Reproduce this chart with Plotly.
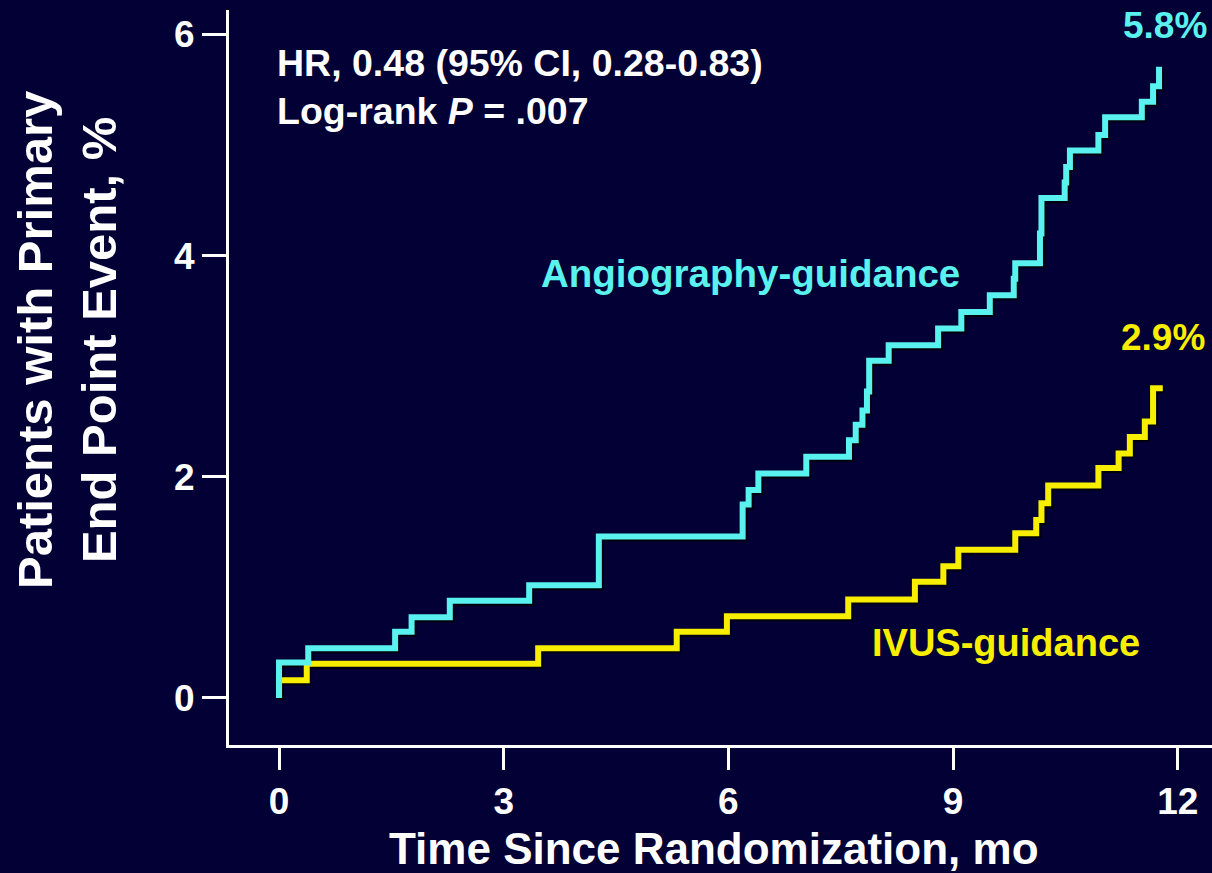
import plotly.graph_objects as go

# Angiography-guidance (cyan) cumulative event curve
angio_months = [0, 0, 0.39, 1.55, 1.77, 2.28, 3.34, 4.27, 6.19, 6.27, 6.40, 7.04, 7.61, 7.70,
                7.79, 7.85, 7.88, 8.14, 8.80, 9.11, 9.49, 9.81, 9.83, 10.16, 10.18, 10.49,
                10.51, 10.56, 10.94, 11.03, 11.52, 11.67, 11.75, 11.79]
angio_pct = [0, 0.32, 0.45, 0.60, 0.73, 0.88, 1.02, 1.46, 1.75, 1.88, 2.03, 2.18, 2.33, 2.47,
             2.60, 2.77, 3.05, 3.19, 3.34, 3.49, 3.64, 3.79, 3.93, 4.20, 4.52, 4.66,
             4.80, 4.95, 5.09, 5.25, 5.39, 5.53, 5.68, 5.68]

# IVUS-guidance (yellow) cumulative event curve
ivus_months = [0, 0, 0.37, 3.46, 5.31, 5.98, 7.60, 8.49, 8.87, 9.07, 9.83, 10.11, 10.18,
               10.27, 10.94, 11.21, 11.36, 11.56, 11.67, 11.80]
ivus_pct = [0, 0.16, 0.31, 0.45, 0.60, 0.74, 0.89, 1.05, 1.19, 1.34, 1.49, 1.61, 1.76,
            1.92, 2.08, 2.21, 2.36, 2.50, 2.80, 2.80]

x_ticks = [0, 3, 6, 9, 12]
y_ticks = [0, 2, 4, 6]

BG = "#020034"
CYAN = "#5af2ef"
YELLOW = "#f7ee00"
FONT = "Liberation Sans"

xr = [-0.668, 12.457]
yr = [-0.425, 6.22]
dx = 2 / 74.9
dy = 2 / 110.6

fig = go.Figure()
# subtle drop shadows (on an overlay axis shifted ~2px down-right)
for xs, ys in ((angio_months, angio_pct), (ivus_months, ivus_pct)):
    fig.add_trace(go.Scatter(x=xs, y=ys, mode="lines", line_shape="hv",
                             line=dict(color="rgba(0,0,0,0.75)", width=6), hoverinfo="skip",
                             showlegend=False, xaxis="x2", yaxis="y2"))
# main curves on a second overlay with the same range as the visible axes
fig.add_trace(go.Scatter(x=ivus_months, y=ivus_pct, mode="lines", line_shape="hv",
                         line=dict(color=YELLOW, width=6), name="IVUS-guidance",
                         showlegend=False, xaxis="x3", yaxis="y3"))
fig.add_trace(go.Scatter(x=angio_months, y=angio_pct, mode="lines", line_shape="hv",
                         line=dict(color=CYAN, width=6), name="Angiography-guidance",
                         showlegend=False, xaxis="x3", yaxis="y3"))

tickfont = dict(family=FONT, size=37, color="white", weight="bold")
fig.update_layout(
    width=1212, height=873,
    margin=dict(l=229, r=0, t=10, b=128),
    paper_bgcolor=BG, plot_bgcolor=BG,
    xaxis=dict(range=xr, tickvals=x_ticks, showgrid=False, zeroline=False,
               showline=True, linecolor="white", linewidth=3,
               ticks="outside", ticklen=22, tickwidth=3, tickcolor="white",
               tickfont=tickfont),
    yaxis=dict(range=yr, tickvals=y_ticks, showgrid=False, zeroline=False,
               showline=True, linecolor="white", linewidth=3,
               ticks="outside", ticklen=24, tickwidth=3, tickcolor="white",
               tickfont=tickfont),
    xaxis2=dict(range=[xr[0] - dx, xr[1] - dx], overlaying="x", visible=False, anchor="y2"),
    yaxis2=dict(range=[yr[0] + dy, yr[1] + dy], overlaying="y", visible=False, anchor="x2"),
    xaxis3=dict(range=xr, overlaying="x", visible=False, anchor="y3"),
    yaxis3=dict(range=yr, overlaying="y", visible=False, anchor="x3"),
)

anns = [
    dict(x=-0.06, y=5.74, xref="x", yref="y", xanchor="left", yanchor="middle",
         text="HR, 0.48 (95% CI, 0.28-0.83)",
         font=dict(family=FONT, size=37.5, color="white", weight="bold")),
    dict(x=-0.06, y=5.31, xref="x", yref="y", xanchor="left", yanchor="middle",
         text="Log-rank <i>P</i> = .007",
         font=dict(family=FONT, size=37.5, color="white", weight="bold")),
    dict(x=6.29, y=3.84, xref="x", yref="y", xanchor="center", yanchor="middle",
         text="Angiography-guidance",
         font=dict(family=FONT, size=38.5, color=CYAN, weight="bold")),
    dict(x=9.71, y=0.50, xref="x", yref="y", xanchor="center", yanchor="middle",
         text="IVUS-guidance",
         font=dict(family=FONT, size=38, color=YELLOW, weight="bold")),
    dict(x=11.83, y=6.08, xref="x", yref="y", xanchor="center", yanchor="middle",
         text="5.8%", font=dict(family=FONT, size=37, color=CYAN, weight="bold")),
    dict(x=11.80, y=3.26, xref="x", yref="y", xanchor="center", yanchor="middle",
         text="2.9%", font=dict(family=FONT, size=37, color=YELLOW, weight="bold")),
    dict(x=-0.1648, y=0.551, xref="paper", yref="paper", xanchor="center", yanchor="middle",
         textangle=-90, text="Patients with Primary<br>End Point Event, %",
         font=dict(family=FONT, size=49, color="white", weight="bold")),
    dict(x=0.493, y=-0.141, xref="paper", yref="paper", xanchor="center", yanchor="middle",
         text="Time Since Randomization, mo",
         font=dict(family=FONT, size=44, color="white", weight="bold")),
]
fig.update_layout(annotations=[dict(a, showarrow=False) for a in anns])

fig.write_html("out.html", config={"displayModeBar": False},
               post_script="document.body.style.margin='0';document.body.style.background='%s';" % BG)
